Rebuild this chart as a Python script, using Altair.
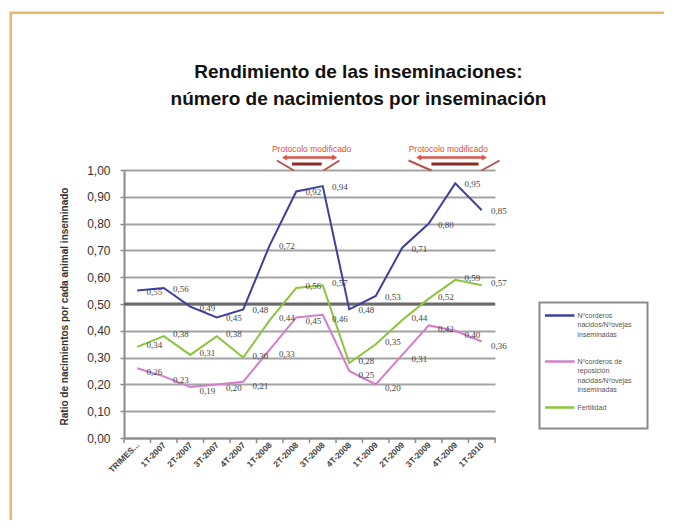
import json
import altair as alt
import pandas as pd

# ---------------- data ----------------
categories = ["TRIMES...", "1T-2007", "2T-2007", "3T-2007", "4T-2007", "1T-2008", "2T-2008",
              "3T-2008", "4T-2008", "1T-2009", "2T-2009", "3T-2009", "4T-2009", "1T-2010"]
series_names = ["Nºcorderos nacidos/Nºovejas inseminadas",
                "Nºcorderos de reposición nacidas/Nºovejas inseminadas",
                "Fertilidad"]
legend_labels = ["Nºcorderos\nnacidos/Nºovejas\ninseminadas",
                 "Nºcorderos de\nreposición\nnacidas/Nºovejas\ninseminadas",
                 "Fertilidad"]
series_colors = ["#3F3F9F", "#D47ECB", "#8CC43C"]
corderos_nacidos = [0.55, 0.56, 0.49, 0.45, 0.48, 0.72, 0.92, 0.94, 0.48, 0.53, 0.71, 0.80, 0.95, 0.85]
corderos_reposicion = [0.26, 0.23, 0.19, 0.20, 0.21, 0.33, 0.45, 0.46, 0.25, 0.20, 0.31, 0.42, 0.40, 0.36]
fertilidad = [0.34, 0.38, 0.31, 0.38, 0.30, 0.44, 0.56, 0.57, 0.28, 0.35, 0.44, 0.52, 0.59, 0.57]
y_ticks = [0.0, 0.1, 0.2, 0.3, 0.4, 0.5, 0.6, 0.7, 0.8, 0.9, 1.0]
title_lines = ["Rendimiento de las inseminaciones:", "número de nacimientos por inseminación"]
y_title = "Ratio de nacimientos por cada animal inseminado"
protocol_text = ["Protocolo modificado", "Protocolo modificado"]
protocol_center = [6.58, 11.74]
protocol_arrow = [(5.56, 7.45), (10.62, 13.10)]
protocol_bar = [(5.84, 6.96), (11.10, 12.88)]
protocol_left = [(5.27, 5.91), (10.24, 11.10)]
protocol_right = [(7.03, 7.63), (12.99, 13.67)]
reference_value = [0.5]

rows = []
for name, vals in zip(series_names, [corderos_nacidos, corderos_reposicion, fertilidad]):
    for i, (c, v) in enumerate(zip(categories, vals)):
        rows.append({"idx": i, "cat": c, "serie": name, "valor": v})
df = pd.DataFrame(rows)

W, H = 371, 268
FONT = "Liberation Sans"

x_enc = alt.X(
    "idx:Q",
    scale=alt.Scale(domain=[-0.5, len(categories) - 0.5], nice=False, zero=False),
    axis=alt.Axis(
        values=list(range(len(categories))),
        labelExpr=f"{json.dumps(categories, ensure_ascii=False)}[datum.value]",
        labelAngle=-45, labelAlign="right", labelBaseline="middle", labelPadding=5,
        labelFont=FONT, labelFontSize=8.5, labelFontWeight="bold", labelColor="#444444",
        labelOverlap=False, labelBound=False, labelFlush=False,
        ticks=False, grid=False, domainColor="#8A8A8A", domainWidth=2, title=None,
    ),
)
y_enc = alt.Y(
    "valor:Q",
    scale=alt.Scale(domain=[0, 1], nice=False, zero=True),
    axis=alt.Axis(
        values=y_ticks,
        labelExpr="replace(format(datum.value, '.2f'), '.', ',')",
        labelFont=FONT, labelFontSize=12, labelColor="#333333", labelPadding=10,
        labelOverlap=False,
        tickSize=4, tickColor="#8A8A8A", tickWidth=1.5,
        grid=True, gridColor="#A3A3A3", gridWidth=2,
        domainColor="#8A8A8A", domainWidth=2,
        title=y_title, titleFont=FONT, titleFontSize=10, titleFontWeight="bold",
        titleColor="#333333", titleAngle=-90, titleAlign="center", titleBaseline="middle",
        titleX=-59.5, titleY=136,
    ),
)
color_enc = alt.Color("serie:N", scale=alt.Scale(domain=series_names, range=series_colors), legend=None)

one = pd.DataFrame({"k": [0]})

# reference line 0.50
ref = alt.Chart(pd.DataFrame({"valor": reference_value})).mark_rule(
    color="#6A6A6A", strokeWidth=3).encode(y=y_enc)

# category boundary ticks
bounds = alt.Chart(pd.DataFrame({"idx": [i - 0.5 for i in range(len(categories) + 1)]})).mark_rule(
    color="#8A8A8A", strokeWidth=1.5).encode(x=x_enc, y=alt.value(H), y2=alt.value(H + 5))

lines = alt.Chart(df).mark_line(strokeWidth=2).encode(x=x_enc, y=y_enc, color=color_enc)

# data labels (one layer per series, slight vertical nudge as in the original)
label_layers = []
for name, nudge in zip(series_names, [1, 4, -2]):
    label_layers.append(
        alt.Chart(df).transform_filter(alt.datum.serie == name).transform_calculate(
            etiqueta="replace(format(datum.valor, '.2f'), '.', ',')"
        ).mark_text(dx=17, dy=nudge, fontSize=9, font="Liberation Serif", color="#444444").encode(
            x=x_enc, y=y_enc, text="etiqueta:N")
    )

# title
title = alt.Chart(pd.DataFrame({"t": ["\n".join(title_lines)]})).mark_text(
    lineBreak="\n", fontSize=19, fontWeight="bold", font=FONT, align="center",
    baseline="top", lineHeight=27, color="#111111"
).encode(x=alt.value(234.5), y=alt.value(-107), text="t:N")

# protocol annotations
p_text = alt.Chart(pd.DataFrame({"idx": protocol_center, "t": protocol_text})).mark_text(
    fontSize=8.5, font=FONT, color="#E0502A", baseline="middle"
).encode(x=x_enc, y=alt.value(-21.5), text="t:N")
p_arrow = alt.Chart(pd.DataFrame({"idx": [a for a, b in protocol_arrow],
                                  "idx2": [b for a, b in protocol_arrow]})).mark_rule(
    color="#D9574A", strokeWidth=2.5).encode(x=x_enc, x2="idx2:Q", y=alt.value(-12.5))
p_head_l = alt.Chart(pd.DataFrame({"idx": [a for a, b in protocol_arrow]})).mark_point(
    shape="triangle-left", size=35, filled=True, opacity=1, color="#D9574A"
).encode(x=x_enc, y=alt.value(-12.5))
p_head_r = alt.Chart(pd.DataFrame({"idx": [b for a, b in protocol_arrow]})).mark_point(
    shape="triangle-right", size=35, filled=True, opacity=1, color="#D9574A"
).encode(x=x_enc, y=alt.value(-12.5))
p_bar = alt.Chart(pd.DataFrame({"idx": [a for a, b in protocol_bar],
                                "idx2": [b for a, b in protocol_bar]})).mark_rule(
    color="#8E2A22", strokeWidth=3).encode(x=x_enc, x2="idx2:Q", y=alt.value(-6))
p_left = alt.Chart(pd.DataFrame({"idx": [a for a, b in protocol_left],
                                 "idx2": [b for a, b in protocol_left]})).mark_rule(
    color="#B8524A", strokeWidth=2).encode(x=x_enc, x2="idx2:Q", y=alt.value(-9.5), y2=alt.value(0.5))
p_right = alt.Chart(pd.DataFrame({"idx": [a for a, b in protocol_right],
                                  "idx2": [b for a, b in protocol_right]})).mark_rule(
    color="#B8524A", strokeWidth=2).encode(x=x_enc, x2="idx2:Q", y=alt.value(0.5), y2=alt.value(-9.5))

# legend box
leg_box = alt.Chart(one).mark_rect(fill="white", stroke="#8A8A8A", strokeWidth=2).encode(
    x=alt.value(415.5), x2=alt.value(523.5), y=alt.value(132.5), y2=alt.value(258.5))
leg_layers = []
leg_y = [145.5, 191.5, 237.5]
for lab, col, yy in zip(legend_labels, series_colors, leg_y):
    leg_layers.append(alt.Chart(one).mark_rule(color=col, strokeWidth=2.5).encode(
        x=alt.value(421), x2=alt.value(450.5), y=alt.value(yy)))
    leg_layers.append(alt.Chart(pd.DataFrame({"t": [lab]})).mark_text(
        lineBreak="\n", align="left", baseline="top", fontSize=7, lineHeight=9.5,
        font=FONT, color="#555555").encode(x=alt.value(453.5), y=alt.value(yy - 4), text="t:N"))

# outer frame
frame_left = alt.Chart(one).mark_rule(color="#E8B86A", strokeWidth=2.5).encode(
    x=alt.value(-113.2), y=alt.value(-157.3), y2=alt.value(350))
frame_top = alt.Chart(one).mark_rule(color="#E8B86A", strokeWidth=2.5).encode(
    x=alt.value(-114.4), x2=alt.value(540), y=alt.value(-157.3))

chart = alt.layer(
    frame_left, frame_top, ref, bounds, lines, *label_layers, title,
    p_left, p_right, p_bar, p_arrow, p_head_l, p_head_r, p_text,
    leg_box, *leg_layers,
).properties(
    width=W, height=H, padding={"left": 0, "top": 3, "right": 0, "bottom": 0},
    background="white",
).configure_view(stroke=None)

chart.save("out.html", embed_options={"renderer": "svg", "actions": False})
